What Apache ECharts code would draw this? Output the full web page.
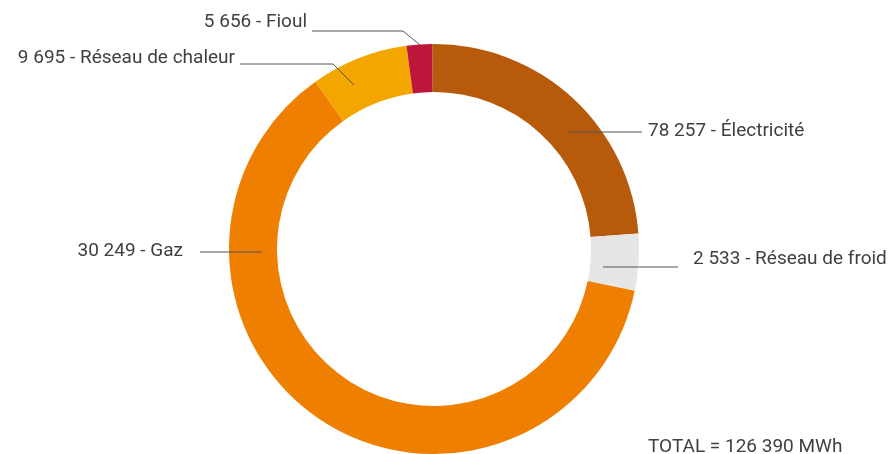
<!DOCTYPE html>
<html>
<head>
<meta charset="utf-8">
<script src="https://cdn.jsdelivr.net/npm/echarts@6/dist/echarts.min.js"></script>
<style>
html,body{margin:0;padding:0;background:#fff;}
#chart{width:896px;height:454px;}
</style>
</head>
<body>
<div id="chart"></div>
<script>
// Slice names (clockwise from top) as labelled in the picture
const categories = ['Électricité', 'Réseau de froid', 'Gaz', 'Réseau de chaleur', 'Fioul'];
// Values printed in the labels
const labelValues = [78257, 2533, 30249, 9695, 5656];
// Arc sizes as drawn in the picture (MWh)
const arcValues = [30249, 5656, 78257, 9695, 2533];
const colors = ['#B85A0C', '#E6E6E6', '#EE7F00', '#F4A600', '#BC163A'];
const totalText = 'TOTAL = 126 390 MWh';

function fmt(n) {
  return String(n).replace(/\B(?=(\d{3})+(?!\d))/g, ' ');
}

// label placement (layout only)
const labelPlace = [
  { x: 648, y: 131, align: 'left', pts: [[568, 132], [642, 132]] },
  { x: 693, y: 259, align: 'left', pts: [[603, 267], [678, 267]] },
  { x: 183, y: 251, align: 'right', pts: [[262, 252], [200, 252]] },
  { x: 235, y: 58, align: 'right', pts: [[354, 85], [333, 64], [240, 64]] },
  { x: 307, y: 22, align: 'right', pts: [[420, 45], [403, 31], [312, 31]] }
];

const pieGeom = {
  type: 'pie',
  center: [434, 249],
  radius: [157, 205],
  startAngle: 90.5,
  clockwise: true,
  avoidLabelOverlap: false,
  silent: true
};

const chart = echarts.init(document.getElementById('chart'), null, { renderer: 'canvas' });
chart.setOption({
  animation: false,
  backgroundColor: '#ffffff',
  title: {
    text: totalText,
    left: 643,
    top: 433,
    textStyle: { fontFamily: 'Roboto', fontSize: 19, fontWeight: 'normal', color: '#404040' }
  },
  series: [
    Object.assign({}, pieGeom, {
      z: 2,
      data: categories.map((c, i) => ({
        name: c,
        value: arcValues[i],
        itemStyle: { color: colors[i] }
      })),
      label: { show: false },
      labelLine: { show: false }
    }),
    Object.assign({}, pieGeom, {
      z: 5,
      data: categories.map((c, i) => ({
        name: c,
        value: arcValues[i],
        itemStyle: { color: 'rgba(0,0,0,0)' }
      })),
      label: {
        show: true,
        position: 'outside',
        formatter: p => fmt(labelValues[p.dataIndex]) + ' - ' + p.name,
        fontFamily: 'Roboto',
        fontSize: 19,
        color: '#404040'
      },
      labelLine: {
        show: true,
        showAbove: true,
        lineStyle: { color: '#555555', width: 1 }
      },
      labelLayout: function (params) {
        const p = labelPlace[params.dataIndex];
        return {
          x: p.x,
          y: p.y,
          align: p.align,
          verticalAlign: 'middle',
          labelLinePoints: p.pts
        };
      }
    })
  ]
});
</script>
</body>
</html>
